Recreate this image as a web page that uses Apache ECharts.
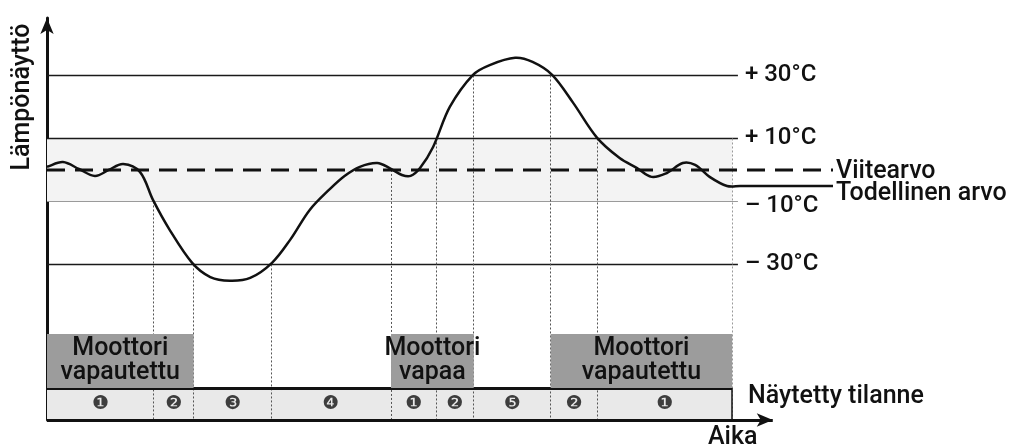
<!DOCTYPE html>
<html>
<head>
<meta charset="utf-8">
<script src="https://cdn.jsdelivr.net/npm/echarts@6/dist/echarts.min.js"></script>
<style>
  html, body { margin: 0; padding: 0; background: #fff; }
  #chart { width: 1012px; height: 448px; }
</style>
</head>
<body>
<div id="chart"></div>
<script>
// Actual temperature reading over time (time in arbitrary units, value in °C)
const actualTime  = [0, 2.2, 4.4, 6.6, 8.5, 10.5, 12.8, 14.6, 16.9, 20.0, 22.5, 25.2, 28.0, 31.0, 33.5, 36.2, 39.0, 41.0, 43.1, 45.5, 47.2, 48.9, 50.1, 51.4, 53.2, 55.5, 58.7, 61.0, 64.5, 66.9, 69.6, 72.5, 75.8, 78.9, 81.3, 83.3, 85.4, 87.6, 89.3, 91.3, 93.7, 95.5, 108.3];
const actualValue = [1.0, 2.5, 0.3, -1.9, 0, 1.9, -0.6, -9.5, -19.0, -29.5, -34.0, -35.2, -34.3, -29.5, -22.2, -12.7, -6.0, -1.9, 1.0, 2.2, 0.6, -1.6, -1.9, 0.6, 7.3, 20.0, 30.2, 33.3, 35.6, 34.3, 30.2, 21.3, 10.2, 3.8, 0.6, -2.2, -1.0, 2.2, 1.6, -2.2, -5.1, -5.1, -5.1];

// Reference value (setpoint)
const referenceTime  = [0, 108.3];
const referenceValue = [0, 0];

// Temperature deviation levels and their labels
const levelValues = [30, 10, -10, -30];
const levelLabels = ['+ 30°C', '+ 10°C', '– 10°C', '– 30°C'];

// Display-state phases: boundaries on the time axis, the level each boundary starts from, and the state shown
const phaseEdges      = [0, 14.7, 20.2, 30.9, 47.4, 53.6, 58.8, 69.4, 75.8, 94.4];
const phaseEdgeLevels = [null, -10, -30, -30, 0, 10, 30, 30, 10, 10];
const phaseStates     = ['❶', '❷', '❸', '❹', '❶', '❷', '❺', '❷', '❶'];

// Motor release periods (start edge index, end edge index) with their texts
const motorSpans  = [[0, 2], [4, 6], [7, 9]];
const motorLabels = ['Moottori\nvapautettu', 'Moottori\nvapaa', 'Moottori\nvapautettu'];

// Layout of the state strip below the curve, in axis units
const AXIS_MIN = -79.4, AXIS_MAX = 48.25;
const STRIP_TOP = -69.2, BOX_TOP = -52.1, STATE_Y = -74.3;
const TIME_MAX = 108.3, TIME_ARROW = 100, LEVEL_END = 95.2;

const FONT = "Roboto, 'Liberation Sans', sans-serif";
const FW = 500;

const zip = (a, b) => a.map((v, i) => [v, b[i]]);

// Smooth path through pixel points: cubic Hermite segments with chord-length scaled tangents
function smoothPath(pts) {
  const n = pts.length;
  const dist = (a, b) => Math.hypot(b[0] - a[0], b[1] - a[1]);
  const tan = pts.map((p, i) => {
    const a = pts[Math.max(0, i - 1)], b = pts[Math.min(n - 1, i + 1)];
    const d = dist(a, b) || 1;
    return [(b[0] - a[0]) / d, (b[1] - a[1]) / d];
  });
  let d = 'M' + pts[0][0] + ' ' + pts[0][1];
  for (let i = 0; i < n - 1; i++) {
    const p = pts[i], q = pts[i + 1], len = dist(p, q) / 3;
    d += ' C' + (p[0] + tan[i][0] * len) + ' ' + (p[1] + tan[i][1] * len) + ' ' +
         (q[0] - tan[i + 1][0] * len) + ' ' + (q[1] - tan[i + 1][1] * len) + ' ' + q[0] + ' ' + q[1];
  }
  return d;
}

const stateData = phaseStates.map((s, i) => ({
  value: [(phaseEdges[i] + phaseEdges[i + 1]) / 2, STATE_Y],
  label: { formatter: s }
}));

const levelLines = levelValues.map((v, i) => [
  { coord: [0, v], lineStyle: { color: v === -10 ? '#9a9a9a' : '#1a1a1a', width: v === -10 ? 1 : 1.4, type: 'solid' },
    label: { show: true, position: 'end', formatter: levelLabels[i], distance: 7, offset: [0, v === -10 ? 5 : 0],
             fontFamily: FONT, fontWeight: FW, fontSize: 24, color: '#111' } },
  { coord: [LEVEL_END, v] }
]);

const dividerLines = phaseEdges.slice(1).map((t, i) => [
  { coord: [t, phaseEdgeLevels[i + 1]], lineStyle: { color: i === phaseEdges.length - 2 ? '#9a9a9a' : '#555', width: 1, type: [2, 2] } },
  { coord: [t, AXIS_MIN] }
]);

const lastEdge = phaseEdges[phaseEdges.length - 1];
const stripLines = [
  [{ coord: [0, STRIP_TOP], lineStyle: { color: '#111', width: 3, type: 'solid' } }, { coord: [lastEdge, STRIP_TOP] }],
  [{ coord: [lastEdge, STRIP_TOP], lineStyle: { color: '#111', width: 1.5, type: 'solid' } }, { coord: [lastEdge, AXIS_MIN] }]
];

// Time axis drawn as an arrow that stops short of the curve's right end
const timeArrow = [[
  { coord: [0, AXIS_MIN], symbol: 'none', lineStyle: { color: '#111', width: 3, type: 'solid' } },
  { coord: [TIME_ARROW, AXIS_MIN], symbol: 'arrow', symbolSize: [10, 16] }
]];

const motorAreas = motorSpans.map((s, i) => [
  { xAxis: phaseEdges[s[0]], yAxis: BOX_TOP, name: motorLabels[i] },
  { xAxis: phaseEdges[s[1]], yAxis: STRIP_TOP }
]);

const chart = echarts.init(document.getElementById('chart'), null, { renderer: 'canvas' });

chart.setOption({
  animation: false,
  backgroundColor: '#ffffff',
  grid: { left: 47, right: 179, top: 18, bottom: 28, containLabel: false },
  xAxis: {
    type: 'value', min: 0, max: TIME_MAX,
    axisLine: { show: false }, axisTick: { show: false }, axisLabel: { show: false }, splitLine: { show: false }
  },
  yAxis: {
    type: 'value', min: AXIS_MIN, max: AXIS_MAX,
    axisLine: { show: true, onZero: false, symbol: ['none', 'arrow'], symbolSize: [10, 16], lineStyle: { color: '#111', width: 3 } },
    axisTick: { show: false }, axisLabel: { show: false }, splitLine: { show: false }
  },
  graphic: [
    { type: 'text', x: 23, y: 97, rotation: Math.PI / 2,
      style: { text: 'Lämpönäyttö', font: FW + ' 25px ' + FONT, fill: '#111', textAlign: 'center', textVerticalAlign: 'middle' } },
    { type: 'text', x: 748, y: 397,
      style: { text: 'Näytetty tilanne', font: FW + ' 25px ' + FONT, fill: '#111', textAlign: 'left', textVerticalAlign: 'middle' } },
    { type: 'text', x: 708, y: 438,
      style: { text: 'Aika', font: FW + ' 25px ' + FONT, fill: '#111', textAlign: 'left', textVerticalAlign: 'middle' } }
  ],
  series: [
    {
      name: 'Tila',
      type: 'scatter',
      data: stateData,
      symbolSize: 0,
      z: 4,
      label: { show: true, position: 'inside', fontFamily: 'DejaVu Sans', fontSize: 19, color: '#111' },
      markArea: {
        silent: true, z: 1,
        data: [
          [{ xAxis: 0, yAxis: 10, itemStyle: { color: '#f3f3f3' } }, { xAxis: lastEdge, yAxis: -10 }],
          [{ xAxis: 0, yAxis: AXIS_MIN, itemStyle: { color: '#e9e9e9' } }, { xAxis: lastEdge, yAxis: STRIP_TOP }]
        ]
      },
      markLine: {
        silent: true, symbol: 'none', z: 3,
        label: { show: false },
        data: levelLines.concat(dividerLines, stripLines, timeArrow)
      }
    },
    {
      name: 'Moottori',
      type: 'scatter',
      data: [],
      markArea: {
        silent: true, z: 6,
        itemStyle: { color: '#9c9c9c' },
        label: { show: true, position: 'inside', fontFamily: FONT, fontWeight: FW, fontSize: 25, lineHeight: 24, color: '#111', align: 'center' },
        data: motorAreas
      }
    },
    {
      name: 'Viitearvo',
      type: 'line',
      data: zip(referenceTime, referenceValue),
      showSymbol: false,
      z: 5,
      lineStyle: { color: '#111', width: 3, type: [18, 10] },
      endLabel: { show: true, formatter: 'Viitearvo', fontFamily: FONT, fontWeight: FW, fontSize: 25, color: '#111', distance: 3, offset: [0, 2] }
    },
    {
      name: 'Todellinen arvo',
      type: 'custom',
      coordinateSystem: 'cartesian2d',
      data: [[actualTime[0], actualValue[0]]],
      z: 6,
      silent: true,
      clip: false,
      renderItem: function (params, api) {
        const pts = actualTime.map((t, i) => api.coord([t, actualValue[i]]));
        const end = pts[pts.length - 1];
        return {
          type: 'group',
          children: [
            { type: 'path', shape: { pathData: smoothPath(pts) },
              style: { fill: 'none', stroke: '#111', lineWidth: 2.5, lineJoin: 'round' } },
            { type: 'text', x: end[0] + 3, y: end[1] + 8,
              style: { text: 'Todellinen arvo', font: FW + ' 25px ' + FONT, fill: '#111', textAlign: 'left', textVerticalAlign: 'middle' } }
          ]
        };
      }
    }
  ]
});
</script>
</body>
</html>
